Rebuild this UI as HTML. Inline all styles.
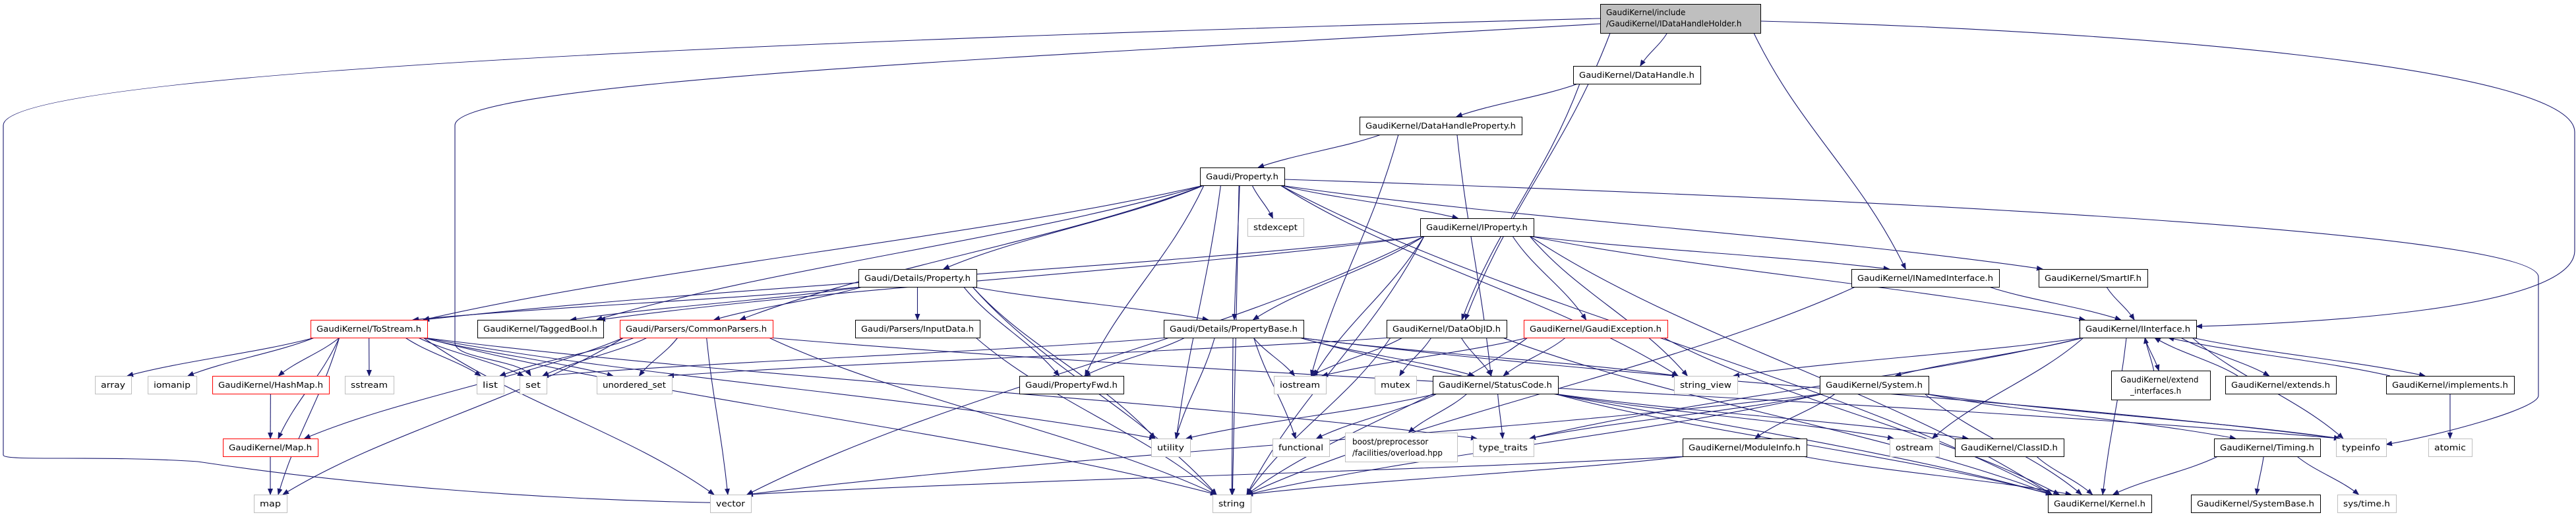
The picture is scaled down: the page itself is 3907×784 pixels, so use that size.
<!DOCTYPE html>
<html><head><meta charset="utf-8">
<style>
html,body{margin:0;padding:0;background:#fff;}
svg{display:block;}
text{font-family:"DejaVu Sans","Liberation Sans",sans-serif;font-size:12px;fill:#000;}
</style></head>
<body>
<svg id="s" width="3907" height="784" viewBox="0 0 3907 784" xmlns="http://www.w3.org/2000/svg">
<defs><marker id="a" markerWidth="10" markerHeight="8" refX="9" refY="4" orient="auto" markerUnits="userSpaceOnUse"><path d="M0,0 L10,4 L0,8 z" fill="#191970"/></marker></defs>
<g id="edges" fill="none" stroke="#191970" stroke-width="1.1"></g>
<g id="nodes">
<g id="root" data-b="2427,6,243,44,g"><text x="2436" y="23">GaudiKernel/include</text><text x="2436" y="40">/GaudiKernel/IDataHandleHolder.h</text></g>
<g id="dh" data-b="2386,100,193,27,b"><text>GaudiKernel/DataHandle.h</text></g>
<g id="dhp" data-b="2062,177,246,27,b"><text>GaudiKernel/DataHandleProperty.h</text></g>
<g id="prop" data-b="1820,254,128,27,b"><text>Gaudi/Property.h</text></g>
<g id="stdexcept" data-b="1892,331,85,27,s"><text>stdexcept</text></g>
<g id="iprop" data-b="2154,331,172,27,b"><text>GaudiKernel/IProperty.h</text></g>
<g id="dprop" data-b="1302,408,179,27,b"><text>Gaudi/Details/Property.h</text></g>
<g id="inamed" data-b="2808,408,224,27,b"><text>GaudiKernel/INamedInterface.h</text></g>
<g id="smartif" data-b="3092,408,165,27,b"><text>GaudiKernel/SmartIF.h</text></g>
<g id="tostream" data-b="471,485,177,27,r"><text>GaudiKernel/ToStream.h</text></g>
<g id="tagged" data-b="724,485,191,27,b"><text>GaudiKernel/TaggedBool.h</text></g>
<g id="common" data-b="940,485,232,27,r"><text>Gaudi/Parsers/CommonParsers.h</text></g>
<g id="input" data-b="1297,485,189,27,b"><text>Gaudi/Parsers/InputData.h</text></g>
<g id="pbase" data-b="1765,485,212,27,b"><text>Gaudi/Details/PropertyBase.h</text></g>
<g id="dataobj" data-b="2103,485,182,27,b"><text>GaudiKernel/DataObjID.h</text></g>
<g id="gexc" data-b="2311,485,218,27,r"><text>GaudiKernel/GaudiException.h</text></g>
<g id="iint" data-b="3154,485,177,27,b"><text>GaudiKernel/IInterface.h</text></g>
<g id="array" data-b="144,570,55,27,s"><text>array</text></g>
<g id="iomanip" data-b="224,570,74,27,s"><text>iomanip</text></g>
<g id="hashmap" data-b="322,570,177,27,r"><text>GaudiKernel/HashMap.h</text></g>
<g id="sstream" data-b="523,570,74,27,s"><text>sstream</text></g>
<g id="list" data-b="723,570,41,27,s"><text>list</text></g>
<g id="set" data-b="788,570,41,27,s"><text>set</text></g>
<g id="uset" data-b="905,570,114,27,s"><text>unordered_set</text></g>
<g id="pfwd" data-b="1546,570,158,27,b"><text>Gaudi/PropertyFwd.h</text></g>
<g id="iostream" data-b="1932,570,79,27,s"><text>iostream</text></g>
<g id="mutex" data-b="2085,570,63,27,s"><text>mutex</text></g>
<g id="status" data-b="2173,570,190,27,b"><text>GaudiKernel/StatusCode.h</text></g>
<g id="sview" data-b="2539,570,96,27,s"><text>string_view</text></g>
<g id="system" data-b="2760,570,165,27,b"><text>GaudiKernel/System.h</text></g>
<g id="extint" data-b="3202,562,150,44,b"><text x="3216" y="580">GaudiKernel/extend</text><text x="3231" y="597">_interfaces.h</text></g>
<g id="extends" data-b="3375,570,168,27,b"><text>GaudiKernel/extends.h</text></g>
<g id="impl" data-b="3619,570,194,27,b"><text>GaudiKernel/implements.h</text></g>
<g id="map_h" data-b="338,665,144,27,r"><text>GaudiKernel/Map.h</text></g>
<g id="utility" data-b="1746,665,59,27,s"><text>utility</text></g>
<g id="functional" data-b="1930,665,86,27,s"><text>functional</text></g>
<g id="boost" data-b="2040,656,170,44,s"><text x="2051" y="674">boost/preprocessor</text><text x="2051" y="691">/facilities/overload.hpp</text></g>
<g id="ttraits" data-b="2234,665,92,27,s"><text>type_traits</text></g>
<g id="modinfo" data-b="2552,665,188,27,b"><text>GaudiKernel/ModuleInfo.h</text></g>
<g id="ostream" data-b="2866,665,75,27,s"><text>ostream</text></g>
<g id="classid" data-b="2965,665,165,27,b"><text>GaudiKernel/ClassID.h</text></g>
<g id="timing" data-b="3358,665,161,27,b"><text>GaudiKernel/Timing.h</text></g>
<g id="typeinfo" data-b="3543,665,76,27,s"><text>typeinfo</text></g>
<g id="atomic" data-b="3683,665,66,27,s"><text>atomic</text></g>
<g id="map" data-b="385,750,50,27,s"><text>map</text></g>
<g id="vector" data-b="1077,750,62,27,s"><text>vector</text></g>
<g id="string" data-b="1839,750,58,27,s"><text>string</text></g>
<g id="kernel" data-b="3106,750,157,27,b"><text>GaudiKernel/Kernel.h</text></g>
<g id="sysbase" data-b="3323,750,196,27,b"><text>GaudiKernel/SystemBase.h</text></g>
<g id="systime" data-b="3545,750,89,27,s"><text>sys/time.h</text></g>
</g>
</svg>
<script>
(function(){
var NS="http://www.w3.org/2000/svg";
var B={};
var gs=document.querySelectorAll('#nodes > g');
gs.forEach(function(g){
 var p=g.getAttribute('data-b').split(',');
 var x=+p[0],y=+p[1],w=+p[2],h=+p[3],t=p[4];
 B[g.id]={x:x,y:y,w:w,h:h};
 var r=document.createElementNS(NS,'rect');
 r.setAttribute('x',x+0.5);r.setAttribute('y',y+0.5);r.setAttribute('width',w);r.setAttribute('height',h);
 r.setAttribute('fill',t=='g'?'#bfbfbf':'#fff');
 r.setAttribute('stroke',t=='r'?'#ff0000':(t=='s'?'#bfbfbf':'#000'));
 r.setAttribute('stroke-width','1');
 g.insertBefore(r,g.firstChild);
 var ts=g.querySelectorAll('text');
 if(ts.length==1 && !ts[0].getAttribute('x')){
  ts[0].setAttribute('x',x+w/2);ts[0].setAttribute('y',y+h/2+4.5);ts[0].setAttribute('text-anchor','middle');
  ts[0].setAttribute('textLength',Math.max(10,w-18));ts[0].setAttribute('lengthAdjust','spacingAndGlyphs');
 }
});
var E=document.getElementById('edges');
function path(d){var p=document.createElementNS(NS,'path');p.setAttribute('d',d);p.setAttribute('marker-end','url(#a)');E.appendChild(p);}
function cl(v,a,b){return Math.max(a,Math.min(b,v));}
function curve(sx,sy,ex,ey){
 var dx=ex-sx,dy=ey-sy;
 var c1x=sx+dx*0.3,c1y=sy+dy*0.4,c2x=ex-dx*0.3,c2y=ey-dy*0.4;
 path('M'+sx+','+sy+' C'+c1x+','+c1y+' '+c2x+','+c2y+' '+ex+','+ey);
}
function edge(s,t){
 var a=B[s],b=B[t];
 var ac=a.x+a.w/2,bc=b.x+b.w/2;
 if(b.y>=a.y+a.h-2){
  var sx=ac+cl((bc-ac)*0.3,-a.w/2+6,a.w/2-6), sy=a.y+a.h;
  var ex=bc+cl((ac-bc)*0.08,-b.w/2+6,b.w/2-6), ey=b.y;
  curve(sx,sy,ex,ey);
 } else if(b.y+b.h<=a.y+2){
  var sx=ac+cl((bc-ac)*0.3,-a.w/2+6,a.w/2-6), sy=a.y;
  var ex=bc+cl((ac-bc)*0.08+8,-b.w/2+6,b.w/2-6), ey=b.y+b.h;
  curve(sx,sy,ex,ey);
 } else {
  var sx,ex,sy=a.y+a.h/2,ey=b.y+b.h/2;
  if(bc<ac){sx=a.x;ex=b.x+b.w;}else{sx=a.x+a.w;ex=b.x;}
  path('M'+sx+','+sy+' C'+((sx+ex)/2)+','+sy+' '+((sx+ex)/2)+','+ey+' '+ex+','+ey);
 }
}
var L=[
['root','dh'],['root','dataobj'],['root','inamed'],
['dh','dhp'],['dh','dataobj'],
['dhp','prop'],['dhp','iostream'],['dhp','status'],
['prop','tostream'],['prop','tagged'],['prop','dprop'],['prop','stdexcept'],['prop','iprop'],['prop','pbase'],['prop','pfwd'],['prop','utility'],['prop','string'],['prop','sview'],['prop','smartif'],['prop','kernel'],['prop','common'],
['iprop','tostream'],['iprop','tagged'],['iprop','pbase'],['iprop','iostream'],['iprop','gexc'],['iprop','inamed'],['iprop','iint'],['iprop','sview'],['iprop','kernel'],['iprop','vector'],['iprop','string'],
['dprop','tostream'],['dprop','tagged'],['dprop','common'],['dprop','input'],['dprop','pbase'],['dprop','pfwd'],['dprop','utility'],['dprop','string'],
['input','string'],
['pbase','pfwd'],['pbase','iostream'],['pbase','status'],['pbase','utility'],['pbase','functional'],['pbase','string'],['pbase','sview'],['pbase','kernel'],['pbase','set'],['pbase','typeinfo'],
['dataobj','iostream'],['dataobj','mutex'],['dataobj','status'],['dataobj','string'],['dataobj','uset'],['dataobj','kernel'],
['gexc','status'],['gexc','iostream'],['gexc','string'],['gexc','kernel'],
['status','utility'],['status','functional'],['status','boost'],['status','ttraits'],['status','ostream'],['status','kernel'],['status','classid'],
['iint','system'],['iint','extint'],['iint','extends'],['iint','impl'],['iint','ostream'],['iint','kernel'],['iint','typeinfo'],['iint','ttraits'],['iint','sview'],
['extint','iint'],['extends','iint'],['impl','iint'],['impl','atomic'],
['system','modinfo'],['system','string'],['system','vector'],['system','typeinfo'],['system','timing'],['system','kernel'],['system','ttraits'],
['modinfo','kernel'],['modinfo','string'],['modinfo','vector'],
['classid','kernel'],
['timing','kernel'],['timing','sysbase'],['timing','systime'],
['tostream','array'],['tostream','iomanip'],['tostream','hashmap'],['tostream','sstream'],['tostream','list'],['tostream','set'],['tostream','uset'],['tostream','map_h'],['tostream','map'],['tostream','vector'],['tostream','string'],['tostream','ttraits'],['tostream','utility'],
['hashmap','map_h'],['map_h','map'],
['common','list'],['common','set'],['common','uset'],['common','map_h'],['common','map'],['common','vector'],['common','string'],['common','typeinfo'],
['smartif','iint'],['inamed','iint'],['inamed','string']
];
L.forEach(function(e){edge(e[0],e[1]);});
path('M2427,28 C1200,60 5,110 5,190 L5,690 C5,700 150,690 300,700 C500,730 800,760 1139,763');
path('M2427,36 C1700,80 690,120 690,190 L690,520 C690,545 790,545 805,570');
path('M2670,32 C3200,45 3905,100 3905,200 L3905,380 C3905,470 3500,490 3331,495');
path('M1948,272 C2800,300 3850,350 3850,420 L3850,600 C3850,620 3700,660 3619,674');
})();
</script>
</body></html>
